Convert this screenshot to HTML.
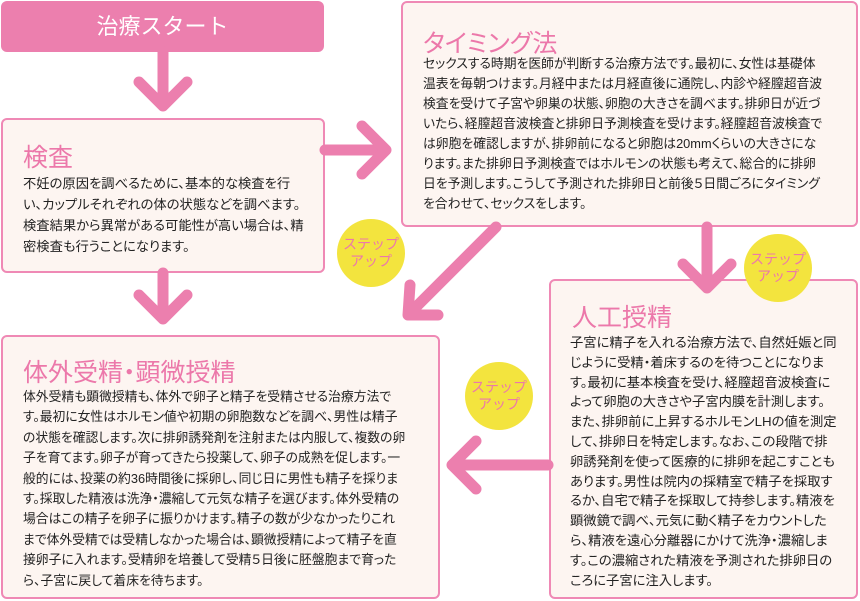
<!DOCTYPE html>
<html><head><meta charset="utf-8"><style>
body{margin:0;width:860px;height:601px;background:#fff;position:relative;overflow:hidden;font-family:"Liberation Sans","Noto Sans CJK JP",sans-serif;}
.box{position:absolute;background:#fdf5f1;border:2px solid #ef89b5;border-radius:6px;box-sizing:border-box;}
.t{position:absolute;color:#ec78aa;font-size:25px;white-space:nowrap;font-feature-settings:"palt";}
.p{position:absolute;color:#222;white-space:nowrap;font-feature-settings:"palt";}
.c{position:absolute;width:68px;height:68px;border-radius:50%;background:#f3e43e;color:#ec78aa;font-size:14px;line-height:17px;text-align:center;display:flex;align-items:center;justify-content:center;}
svg{position:absolute;left:0;top:0}
</style></head><body>
<div style="position:absolute;left:1px;top:1px;width:323px;height:51px;background:#ec7fae;border-radius:6px;color:#fff;font-size:22px;line-height:51px;text-align:center;">治療スタート</div>

<div class="box" style="left:1px;top:118px;width:324px;height:155px"></div>
<div class="t" style="left:23px;top:138px">検査</div>
<div class="p" style="left:23px;top:173px;font-size:13.3px;line-height:21px">不妊の原因を調べるために、基本的な検査を行<br>い、カップルそれぞれの体の状態などを調べます。<br>検査結果から異常がある可能性が高い場合は、精<br>密検査も行うことになります。</div>

<div class="box" style="left:401px;top:1px;width:457px;height:226px"></div>
<div class="t" style="left:423px;top:24px">タイミング法</div>
<div class="p" style="left:423px;top:54px;font-size:12.8px;line-height:20px">セックスする時期を医師が判断する治療方法です。最初に、女性は基礎体<br>温表を毎朝つけます。月経中または月経直後に通院し、内診や経膣超音波<br>検査を受けて子宮や卵巣の状態、卵胞の大きさを調べます。排卵日が近づ<br>いたら、経膣超音波検査と排卵日予測検査を受けます。経膣超音波検査で<br>は卵胞を確認しますが、排卵前になると卵胞は20mmくらいの大きさにな<br>ります。また排卵日予測検査ではホルモンの状態も考えて、総合的に排卵<br>日を予測します。こうして予測された排卵日と前後５日間ごろにタイミング<br>を合わせて、セックスをします。</div>

<div class="box" style="left:549px;top:279px;width:309px;height:320px"></div>
<div class="t" style="left:572px;top:298px">人工授精</div>
<div class="p" style="left:570px;top:333px;font-size:13.3px;line-height:19.8px">子宮に精子を入れる治療方法で、自然妊娠と同<br>じように受精・着床するのを待つことになりま<br>す。最初に基本検査を受け、経膣超音波検査に<br>よって卵胞の大きさや子宮内膜を計測します。<br>また、排卵前に上昇するホルモンLHの値を測定<br>して、排卵日を特定します。なお、この段階で排<br>卵誘発剤を使って医療的に排卵を起こすことも<br>あります。男性は院内の採精室で精子を採取す<br>るか、自宅で精子を採取して持参します。精液を<br>顕微鏡で調べ、元気に動く精子をカウントした<br>ら、精液を遠心分離器にかけて洗浄・濃縮しま<br>す。この濃縮された精液を予測された排卵日の<br>ころに子宮に注入します。</div>

<div class="box" style="left:1px;top:335px;width:439px;height:264px"></div>
<div class="t" style="left:23px;top:353px">体外受精・顕微授精</div>
<div class="p" style="left:23px;top:387px;font-size:12.8px;line-height:20.4px">体外受精も顕微授精も、体外で卵子と精子を受精させる治療方法で<br>す。最初に女性はホルモン値や初期の卵胞数などを調べ、男性は精子<br>の状態を確認します。次に排卵誘発剤を注射または内服して、複数の卵<br>子を育てます。卵子が育ってきたら投薬して、卵子の成熟を促します。一<br>般的には、投薬の約36時間後に採卵し、同じ日に男性も精子を採りま<br>す。採取した精液は洗浄・濃縮して元気な精子を選びます。体外受精の<br>場合はこの精子を卵子に振りかけます。精子の数が少なかったりこれ<br>まで体外受精では受精しなかった場合は、顕微授精によって精子を直<br>接卵子に入れます。受精卵を培養して受精５日後に胚盤胞まで育った<br>ら、子宮に戻して着床を待ちます。</div>

<svg width="860" height="601">
<g stroke="#ec7fae" stroke-width="11" fill="none" stroke-linecap="round" stroke-linejoin="round">
<line x1="163" y1="52" x2="163" y2="104"/><polyline points="139,82 163,106 187,82"/>
<line x1="325" y1="150" x2="384" y2="150"/><polyline points="362,126 386,150 362,174"/>
<line x1="163" y1="273" x2="163" y2="317"/><polyline points="139,295 163,319 187,295"/>
<line x1="496" y1="227" x2="412" y2="311"/><polyline points="410,285 408,315 438,315"/>
<line x1="707" y1="227" x2="707" y2="285"/><polyline points="683,264 707,288 731,264"/>
<line x1="548" y1="465" x2="454" y2="465"/><polyline points="476,441 452,465 476,489"/>
</g></svg>
<div class="c" style="left:337px;top:219px">ステップ<br>アップ</div>
<div class="c" style="left:744px;top:234px">ステップ<br>アップ</div>
<div class="c" style="left:465px;top:362px">ステップ<br>アップ</div>
</body></html>
